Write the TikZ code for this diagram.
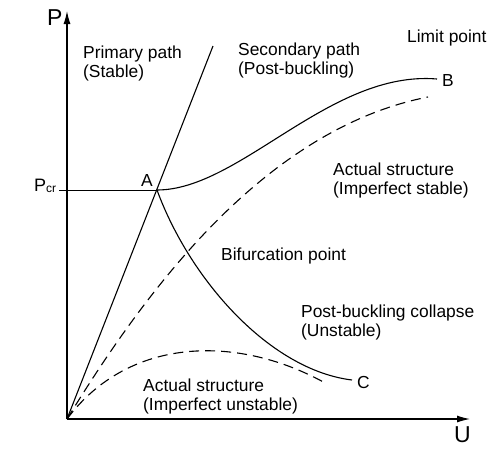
\documentclass[tikz,border=0pt]{standalone}
\usepackage{fontspec}
\setmainfont{Liberation Sans}
\usetikzlibrary{arrows.meta}
\begin{document}
\begin{tikzpicture}[x=1pt,y=-1pt,
  curve/.style={line width=1.1pt},
  dashcurve/.style={line width=1.1pt, dash pattern=on 10pt off 6pt},
  axis/.style={line width=1.1pt, -{Latex[length=13pt,width=7pt]}},
  lbl/.style={anchor=base west, align=left, inner sep=0pt, font=\fontsize{17.4}{19.5}\selectfont},
  axlbl/.style={anchor=base west, inner sep=0pt, font=\fontsize{23}{26}\selectfont}]
\useasboundingbox (0,0) rectangle (500,450);
% key points
\coordinate (O) at (67,419);
\coordinate (Ytip) at (67,11);
\coordinate (Xtip) at (470,419);
\coordinate (A) at (157,190);
\coordinate (Ptick) at (59,190);
\coordinate (Ltop) at (213,46);
\coordinate (Bend) at (437,79);
\coordinate (Cend) at (352,380);
\coordinate (Send) at (428,97);
\coordinate (Uend) at (327,384);
% axes
\draw[axis] (O) -- (Ytip);
\draw[axis] (O) -- (Xtip);
\node[axlbl] (Plab) at (47,25) {P};
\node[axlbl] (Ulab) at (454,442) {U};
% Pcr line
\draw[line width=0.9pt] (Ptick) -- (A);
\node[anchor=base west, inner sep=0pt, font=\fontsize{18}{20}\selectfont] (Pcr) at (34,191) {P\raisebox{-1pt}{\fontsize{12}{14}\selectfont cr}};
% primary path
\draw[curve] (O) -- (Ltop);
% secondary path
\draw[curve] (A) .. controls (240,190) and (330,70) .. (Bend);
% post-buckling collapse
\draw[curve] (A) .. controls (190,280) and (270,370) .. (Cend);
% imperfect stable
\draw[dashcurve] (O) .. controls (140,300) and (260,130) .. (Send);
% imperfect unstable
\draw[dashcurve] (O) .. controls (130,335) and (240,335) .. (Uend);
% labels (base anchor = baseline of last line)
\node[lbl] (Alab) at (141,186) {A};
\node[lbl] (Blab) at (442,86) {B};
\node[lbl] (Clab) at (357,388) {C};
\node[lbl] (prim) at (83,77.5) {Primary path\\(Stable)};
\node[lbl] (sec) at (238,74.5) {Secondary path\\(Post-buckling)};
\node[lbl] (lim) at (407,42) {Limit point};
\node[lbl] (acts) at (333,194.5) {Actual structure\\(Imperfect stable)};
\node[lbl] (bif) at (221,260) {Bifurcation point};
\node[lbl] (coll) at (301,336.5) {Post-buckling collapse\\(Unstable)};
\node[lbl] (actu) at (143,410.5) {Actual structure\\(Imperfect unstable)};
\end{tikzpicture}
\end{document}
